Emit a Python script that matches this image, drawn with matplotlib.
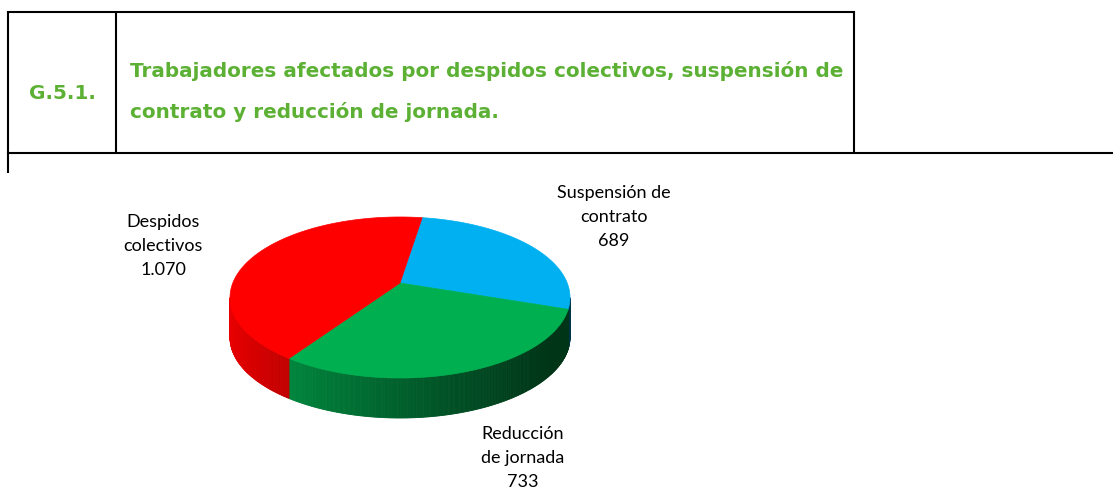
import numpy as np
import matplotlib
matplotlib.use("Agg")
import matplotlib.pyplot as plt
from matplotlib.patches import Polygon

# ---------------- data ----------------
categories = ["Suspensión de\ncontrato", "Reducción\nde jornada", "Despidos\ncolectivos"]
values = [689, 733, 1070]
colors = ["#00B0F0", "#00B050", "#FF0000"]

title_code = "G.5.1."
title_lines = ["Trabajadores afectados por despidos colectivos, suspensión de",
               "contrato y reducción de jornada."]

# ---------------- layout (pixels) ----------------
W, H = 1113, 491
label_anchor = [(614, 193), (523, 434), (163, 222)]  # first-line centre of each label
line_h = 24
# perspective pie: apex, radii, perspective factor, thickness
px0, py0 = 400.0, 283.0
R, Rv, e = 167.2, 77.9, 0.18
depth = 40.0
start_angle = 81.0
green_title = "#5CB135"

fig = plt.figure(figsize=(W / 100, H / 100), dpi=100)
ax = fig.add_axes([0, 0, 1, 1])
ax.set_xlim(0, W)
ax.set_ylim(H, 0)
ax.axis("off")

# frame lines
lw = 1.5
def hline(y, x0, x1):
    ax.plot([x0, x1], [y, y], color="black", lw=lw, solid_capstyle="projecting")
def vline(x, y0, y1):
    ax.plot([x, x], [y0, y1], color="black", lw=lw, solid_capstyle="butt")
hline(11.5, 8, 854)
hline(152.7, 8, W)
vline(8, 11.5, 173)
vline(115.7, 11.5, 152.7)
vline(854, 11.5, 152.7)

# title
t1 = ax.text(130, 71, title_lines[0], fontsize=13, weight="bold", family="DejaVu Sans",
             color=green_title, va="center", ha="left")
fig.canvas.draw()
w = t1.get_window_extent(fig.canvas.get_renderer()).width
fs = 13 * 707 / w
t1.set_fontsize(fs)
ax.text(130, 111.5, title_lines[1], fontsize=fs, weight="bold", family="DejaVu Sans",
        color=green_title, va="center", ha="left")
ax.text(62, 93, title_code, fontsize=fs, weight="bold", family="DejaVu Sans",
        color=green_title, va="center", ha="center")

# ---------------- 3D pie (perspective) ----------------
def top_pt(t):
    r = np.radians(t)
    d = 1 + e * np.sin(r)
    return px0 + R * np.cos(r) / d, py0 - Rv * np.sin(r) / d

x_min = px0 - R / np.sqrt(1 - e * e)
x_max = px0 + R / np.sqrt(1 - e * e)

def shade(t):
    x, _ = top_pt(t)
    u = (x - x_min) / (x_max - x_min)
    return max(0.3, 0.92 - 0.65 * u ** 0.8)

total = float(sum(values))
slices = []
t = start_angle
for v, c in zip(values, colors):
    span = 360.0 * v / total
    slices.append((t, t - span, c))
    t -= span

# visible wall range: between the two silhouette extremes (sin t = -e)
vis_lo = -180 + np.degrees(np.arcsin(e))
vis_hi = -np.degrees(np.arcsin(e))

for t0, t1_, c in slices:
    base = np.array(matplotlib.colors.to_rgb(c))
    for k in (-1, 0, 1):
        lo = max(t1_, 360 * k + vis_lo)
        hi = min(t0, 360 * k + vis_hi)
        if lo >= hi:
            continue
        n = max(2, int((hi - lo) / 0.5) + 1)
        ts = np.linspace(lo, hi, n)
        for i in range(n - 1):
            ta, tb = ts[i], ts[i + 1]
            xa, ya = top_pt(ta)
            xb, yb = top_pt(tb)
            col = np.clip(base * shade((ta + tb) / 2), 0, 1)
            ax.add_patch(Polygon([(xa, ya), (xb, yb), (xb, yb + depth), (xa, ya + depth)],
                                 closed=True, facecolor=col, edgecolor=col, lw=0.6))

# top faces
for t0, t1_, c in slices:
    ts = np.linspace(t0, t1_, 240)
    pts = [(px0, py0)] + [top_pt(tt) for tt in ts]
    ax.add_patch(Polygon(pts, closed=True, facecolor=c, edgecolor=c, lw=0.5))

# labels
def fmt(v):
    return f"{v:,}".replace(",", ".")

for (lx, ly), cat, v in zip(label_anchor, categories, values):
    lines = cat.split("\n") + [fmt(v)]
    for i, s in enumerate(lines):
        ax.text(lx, ly + i * line_h, s, fontsize=13, family="Lato", color="black",
                ha="center", va="center")

fig.savefig("out.png", dpi=100)
